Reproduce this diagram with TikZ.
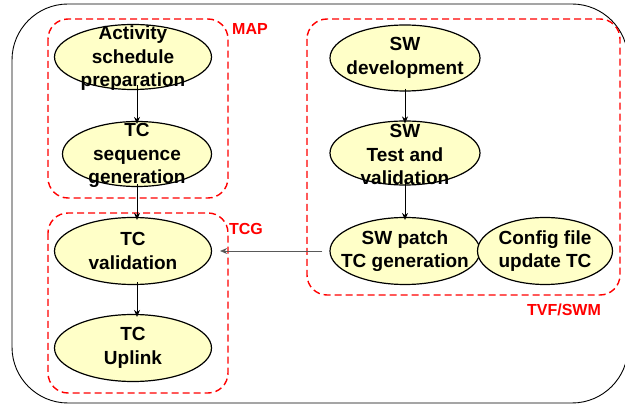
\documentclass[tikz,border=0pt]{standalone}
\usepackage{fontspec}
\setmainfont{Liberation Sans}
\usetikzlibrary{shapes.geometric,arrows.meta}
\definecolor{ellfill}{RGB}{255,255,200}
\begin{document}
\begin{tikzpicture}[x=1pt,y=-1pt,
  ell/.style={ellipse,draw=black,line width=1.2pt,fill=ellfill,inner sep=0pt},
  txt/.style={font=\bfseries\fontsize{19}{23.5}\selectfont,align=center,inner sep=0pt},
  grp/.style={draw=red,line width=1.4pt,dash pattern=on 7pt off 4pt,rounded corners=20pt},
  grplabel/.style={text=red,font=\bfseries\fontsize{16}{18}\selectfont,inner sep=0pt},
  arr/.style={-{Stealth[length=7pt,width=6pt]},line width=0.8pt,black}]
\useasboundingbox (0,0) rectangle (625,406);
\draw[line width=0.9pt,rounded corners=56pt] (12,4) rectangle (628,403);
% groups
\draw[grp] (48,19) rectangle (228,198);
\node[grplabel] (lmap) at (250,29) {MAP};
\draw[grp] (48,213) rectangle (228,393);
\node[grplabel] (ltcg) at (246,229) {TCG};
\draw[grp] (307,19) rectangle (620,295);
\node[grplabel] (ltvf) at (564,310) {TVF/SWM};
% ellipses
\node[ell,minimum width=157pt,minimum height=65pt] (asp) at (133,57) {};
\node[txt] at ([yshift=-1.5pt]asp.center) {Activity\\schedule\\preparation};
\node[ell,minimum width=149pt,minimum height=65pt] (tcs) at (137,154) {};
\node[txt] at ([yshift=-1.5pt]tcs.center) {TC\\sequence\\generation};
\node[ell,minimum width=157pt,minimum height=67pt] (tcv) at (133,251) {};
\node[txt] at (tcv.center) {TC\\validation};
\node[ell,minimum width=157pt,minimum height=67pt] (tcu) at (133,348) {};
\node[txt] at (tcu.center) {TC\\Uplink};
\node[ell,minimum width=150pt,minimum height=66pt] (swd) at (405,58) {};
\node[txt] at (swd.center) {SW\\development};
\node[ell,minimum width=150pt,minimum height=64pt] (swt) at (405,153) {};
\node[txt] at ([yshift=-1.5pt]swt.center) {SW\\Test and\\validation};
\node[ell,minimum width=150pt,minimum height=67pt] (swp) at (405,251) {};
\node[txt] at (swp.center) {SW patch\\TC generation};
\node[ell,minimum width=135pt,minimum height=67pt] (cfg) at (545,251) {};
\node[txt] at (cfg.center) {Config file\\update TC};
% connectors
\draw[arr] ([xshift=4pt,yshift=5pt]asp.south) -- ([yshift=-3pt]tcs.north);
\draw[arr] ([yshift=3pt]tcs.south) -- ([xshift=4pt,yshift=-3pt]tcv.north);
\draw[arr] ([xshift=4pt,yshift=3pt]tcv.south) -- ([xshift=4pt,yshift=-3pt]tcu.north);
\draw[arr] ([yshift=3pt]swd.south) -- ([yshift=-3pt]swt.north);
\draw[arr] ([yshift=5pt]swt.south) -- ([yshift=-3pt]swp.north);
\draw[-{Stealth[length=7pt,width=6pt]},line width=0.8pt,draw=black!65] ([xshift=-7pt]swp.west) -- ([xshift=8pt]tcv.east);
\end{tikzpicture}
\end{document}
